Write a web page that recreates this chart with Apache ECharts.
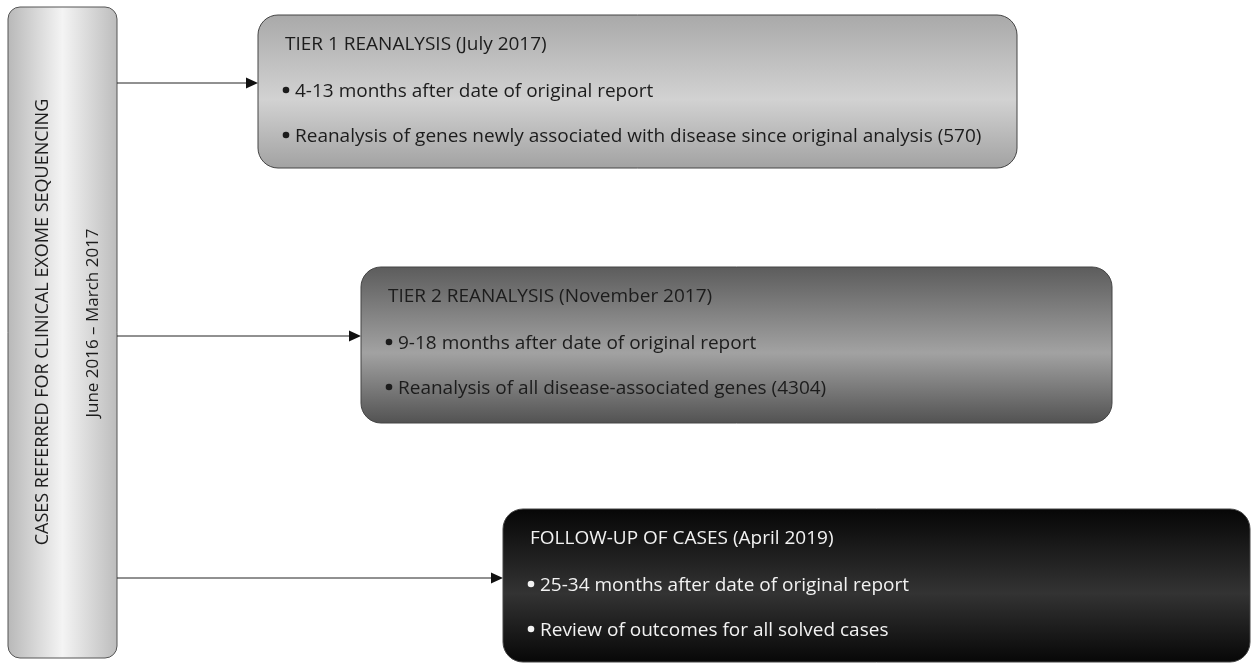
<!DOCTYPE html>
<html>
<head>
<meta charset="utf-8">
<script src="https://cdn.jsdelivr.net/npm/echarts@6/dist/echarts.min.js"></script>
<style>
  html, body { margin: 0; padding: 0; background: #fff; }
  #main { width: 1255px; height: 665px; }
</style>
</head>
<body>
<div id="main"></div>
<script>
// 左侧来源框文字
var sourceTitle = 'CASES REFERRED FOR CLINICAL EXOME SEQUENCING'
var sourcePeriod = 'June 2016 \u2013 March 2017'

// 三个阶段
var stageTitles = [
  'TIER 1 REANALYSIS (July 2017)',
  'TIER 2 REANALYSIS (November 2017)',
  'FOLLOW-UP OF CASES (April 2019)'
]
var stageTiming = [
  '4-13 months after date of original report',
  '9-18 months after date of original report',
  '25-34 months after date of original report'
]
var stageScope = [
  'Reanalysis of genes newly associated with disease since original analysis (570)',
  'Reanalysis of all disease-associated genes (4304)',
  'Review of outcomes for all solved cases'
]

// 布局 (px)
var sourceBox = { x: 8, y: 7, w: 109, h: 651 }
var stageBoxes = [
  { x: 258, y: 15, w: 759, h: 153, arrowY: 83 },
  { x: 361, y: 267, w: 751, h: 156, arrowY: 336 },
  { x: 503, y: 509, w: 747, h: 153, arrowY: 578 }
]
// 每个框的渐变 (上, 中, 下) 和文字颜色
var stageFills = [
  ['#a9a9a9', '#d2d2d2', '#a2a2a2'],
  ['#5c5c5c', '#a2a2a2', '#525252'],
  ['#060606', '#333333', '#070707']
]
var stageTextColors = ['#1c1c1c', '#1c1c1c', '#f2f2f2']

var font = '"Open Sans", sans-serif'

function vGrad (c) {
  return {
    type: 'linear', x: 0, y: 0, x2: 0, y2: 1,
    colorStops: [
      { offset: 0, color: c[0] },
      { offset: 0.55, color: c[1] },
      { offset: 1, color: c[2] }
    ]
  }
}

var elements = []

// 左侧框
elements.push({
  type: 'rect',
  shape: { x: sourceBox.x, y: sourceBox.y, width: sourceBox.w, height: sourceBox.h, r: 12 },
  style: {
    fill: {
      type: 'linear', x: 0, y: 0, x2: 1, y2: 0,
      colorStops: [
        { offset: 0, color: '#b8b8b8' },
        { offset: 0.5, color: '#f4f4f4' },
        { offset: 1, color: '#bcbcbc' }
      ]
    },
    stroke: '#555',
    lineWidth: 1
  }
})
elements.push({
  type: 'text',
  x: 43, y: 322, rotation: Math.PI / 2,
  style: { text: sourceTitle, font: '18px ' + font, fill: '#1c1c1c', align: 'center', verticalAlign: 'middle' }
})
elements.push({
  type: 'text',
  x: 93, y: 323, rotation: Math.PI / 2,
  style: { text: sourcePeriod, font: '17px ' + font, fill: '#1c1c1c', align: 'center', verticalAlign: 'middle' }
})

stageBoxes.forEach(function (b, i) {
  var x0 = sourceBox.x + sourceBox.w
  // 箭头线
  elements.push({
    type: 'line',
    shape: { x1: x0, y1: b.arrowY, x2: b.x - 10, y2: b.arrowY },
    style: { stroke: '#222', lineWidth: 1 }
  })
  elements.push({
    type: 'polygon',
    shape: { points: [[b.x - 12, b.arrowY - 5.5], [b.x, b.arrowY], [b.x - 12, b.arrowY + 5.5]] },
    style: { fill: '#111' }
  })
  // 阶段框
  elements.push({
    type: 'rect',
    shape: { x: b.x, y: b.y, width: b.w, height: b.h, r: 20 },
    style: { fill: vGrad(stageFills[i]), stroke: '#444', lineWidth: 1 }
  })
  var col = stageTextColors[i]
  // 标题
  elements.push({
    type: 'text',
    x: b.x + 27, y: b.y + 30,
    style: { text: stageTitles[i], font: '19px ' + font, fill: col, align: 'left', verticalAlign: 'middle' }
  })
  // 两条要点
  var bullets = [stageTiming[i], stageScope[i]]
  var offs = [77, 122]
  bullets.forEach(function (t, j) {
    elements.push({
      type: 'circle',
      shape: { cx: b.x + 28, cy: b.y + offs[j] - 2, r: 3.3 },
      style: { fill: col }
    })
    elements.push({
      type: 'text',
      x: b.x + 37, y: b.y + offs[j],
      style: { text: t, font: '19px ' + font, fill: col, align: 'left', verticalAlign: 'middle' }
    })
  })
})

var chart = echarts.init(document.getElementById('main'))
chart.setOption({
  backgroundColor: '#fff',
  graphic: { elements: elements }
})
window.addEventListener('resize', function () { chart.resize() })
</script>
</body>
</html>
